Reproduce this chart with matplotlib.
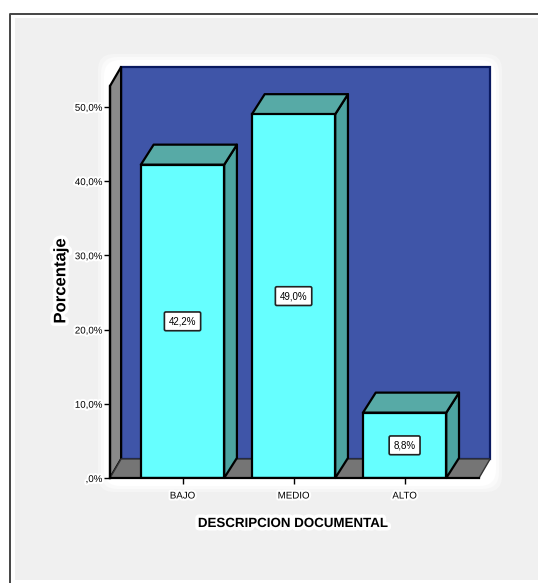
import matplotlib
matplotlib.use("Agg")
import matplotlib.pyplot as plt
import matplotlib.patheffects as pe
from matplotlib.patches import FancyBboxPatch, Rectangle

plt.rcParams['font.family'] = ['Liberation Sans', 'DejaVu Sans']

categories = ['BAJO', 'MEDIO', 'ALTO']
values = [42.2, 49.0, 8.8]
value_labels = ['42,2%', '49,0%', '8,8%']
y_ticks = [0, 10, 20, 30, 40, 50]
y_tick_labels = [',0%', '10,0%', '20,0%', '30,0%', '40,0%', '50,0%']

W, H = 538, 583
fig = plt.figure(figsize=(W / 100, H / 100), dpi=100, facecolor='white')

# background layer in pixels (frame, grey panel, white glow behind the chart)
bg = fig.add_axes([0, 0, 1, 1], zorder=0)
bg.set_xlim(0, W)
bg.set_ylim(H, 0)
bg.axis('off')
bg.add_patch(Rectangle((15, 18), W, 562, fc='#f0f0f0', ec='none'))
bg.plot([10, 10, W], [H, 14, 14], color='#444444', lw=1.4)
for grow, a in [(6, 0.35), (3, 0.5), (0, 1)]:
    bg.add_patch(FancyBboxPatch((104 - grow, 60 - grow), 392 + 2 * grow, 426 + 2 * grow,
                                boxstyle='round,pad=0,rounding_size=16',
                                fc='white', ec='none', alpha=a))

# chart axes, front plane of the 3d box
ax = fig.add_axes([110 / W, 1 - 478 / H, 369 / W, 392 / H], zorder=1)
ax.patch.set_alpha(0)
x = list(range(len(categories)))
x_min, x_max = -0.653, 2.67
y_max = 52.8
ax.set_xlim(x_min, x_max)
ax.set_ylim(0, y_max)

wall_dx, wall_dy = 0.1, 2.56
bar_dx, bar_dy = 0.115, 2.7
bar_w = 0.75
line_kw = dict(edgecolor='black', linewidth=1.6, clip_on=False, joinstyle='round')

# back wall, left wall, floor
ax.fill([x_min + wall_dx, x_max + wall_dx, x_max + wall_dx, x_min + wall_dx],
        [wall_dy, wall_dy, y_max + wall_dy, y_max + wall_dy],
        facecolor='#3f55a8', edgecolor='#0a1a60', linewidth=1.6, clip_on=False, zorder=1)
ax.fill([x_min, x_min + wall_dx, x_min + wall_dx, x_min],
        [0, wall_dy, y_max + wall_dy, y_max],
        facecolor='#8a8a8a', zorder=2, **line_kw)
ax.fill([x_min, x_max, x_max + wall_dx, x_min + wall_dx],
        [0, 0, wall_dy, wall_dy],
        facecolor='#757575', edgecolor='#333333', linewidth=1, clip_on=False, zorder=2)

for xi, v in zip(x, values):
    left, right = xi - bar_w / 2, xi + bar_w / 2
    ax.fill([right, right + bar_dx, right + bar_dx, right],
            [0, bar_dy, v + bar_dy, v], facecolor='#4ca3a0', zorder=3, **line_kw)
    ax.fill([left, right, right + bar_dx, left + bar_dx],
            [v, v, v + bar_dy, v + bar_dy], facecolor='#57aaa6', zorder=3, **line_kw)

ax.bar(x, values, width=bar_w, color='#66ffff', edgecolor='black', linewidth=1.6, zorder=4)

halo = [pe.withStroke(linewidth=3, foreground='white')]
for xi, v, lab in zip(x, values, value_labels):
    ax.text(xi, v / 2, lab, ha='center', va='center', fontsize=7, color='black', zorder=5,
            bbox=dict(boxstyle='round,pad=0.45,rounding_size=0.15', fc='white', ec='#222222', lw=1.2))

for side in ['top', 'right']:
    ax.spines[side].set_visible(False)
for side in ['left', 'bottom']:
    ax.spines[side].set_linewidth(1.6)
    ax.spines[side].set_zorder(6)

ax.set_xticks(x)
ax.set_xticklabels(categories, fontsize=7)
ax.set_yticks(y_ticks)
ax.set_yticklabels(y_tick_labels, fontsize=7)
ax.tick_params(axis='y', length=4, width=1, pad=1.5)
ax.tick_params(axis='x', length=4, width=1, pad=5)
for lab in ax.get_xticklabels() + ax.get_yticklabels():
    lab.set_path_effects(halo)

ax.set_xlabel('DESCRIPCION DOCUMENTAL', fontsize=9.6, fontweight='bold',
              path_effects=[pe.withStroke(linewidth=5, foreground='white')])
ax.set_ylabel('Porcentaje', fontsize=12, fontweight='bold',
              path_effects=[pe.withStroke(linewidth=5, foreground='white')])
ax.yaxis.set_label_coords(-0.113, (478 - 281) / 392)
ax.xaxis.set_label_coords((293 - 110) / 369, -40 / 392)

fig.savefig('out.png', dpi=100)
